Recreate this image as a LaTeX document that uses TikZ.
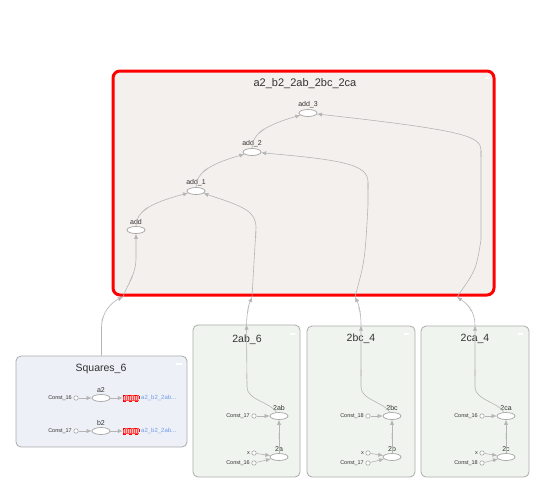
\documentclass[tikz,border=0pt]{standalone}
\usepackage{fontspec}
\setmainfont{Liberation Sans}
\usetikzlibrary{arrows.meta,shapes.geometric}
\definecolor{mainfill}{HTML}{F4F0EE}
\definecolor{groupgreen}{HTML}{F0F4EE}
\definecolor{squaresblue}{HTML}{EDF0F6}
\definecolor{boxgray}{HTML}{ABABAB}
\definecolor{edgegray}{HTML}{B5B5B5}
\definecolor{opgray}{HTML}{A6A6A6}
\definecolor{textgray}{HTML}{333333}
\definecolor{refblue}{HTML}{6F9CEB}
\begin{document}
\begin{tikzpicture}[x=1pt,y=-1pt,
	opnode/.style={ellipse, draw=opgray, fill=white, line width=0.7pt, minimum width=18pt, minimum height=7pt, inner sep=0pt},
	constnode/.style={circle, draw=opgray, fill=white, line width=0.6pt, minimum size=4.4pt, inner sep=0pt},
	oplabel/.style={font=\fontsize{7}{8}\selectfont, text=textgray, inner sep=0.5pt, label distance=1pt},
	constlabel/.style={font=\fontsize{5.5}{6}\selectfont, text=textgray, inner sep=0.5pt, label distance=1pt},
	groupbox/.style={draw=boxgray, line width=0.8pt, rounded corners=5pt, fill=groupgreen, inner sep=0pt},
	grouptitle/.style={font=\fontsize{10.5}{12}\selectfont, text=textgray},
	dataflow/.style={draw=edgegray, line width=0.6pt, -{Latex[length=5pt,width=4.2pt]}},
	shapelabel/.style={sloped, font=\fontsize{2.5}{3}\selectfont, text=edgegray, inner sep=0.3pt},
	stubbox/.style={draw=red, dashed, line width=0.5pt, fill=red!70, minimum width=16pt, minimum height=5.5pt, inner sep=0pt},
	stubtext/.style={font=\fontsize{6}{7}\selectfont, text=refblue, inner sep=0pt, anchor=west},
	collapse/.style={white, line width=1.3pt}]
	\fill[white] (0,0) rectangle (546,493);
	\useasboundingbox (0,0) rectangle (546,493);

	\node[draw=red, line width=3pt, rounded corners=7pt, fill=mainfill, minimum width=381pt, minimum height=224pt, inner sep=0pt] (main) at (303.5,183) {};
	\node[font=\fontsize{11}{13}\selectfont, text=textgray] (maintitle) at (305,84) {a2\_b2\_2ab\_2bc\_2ca};
	\draw[collapse] (485,78) -- (490,78);

	\node[groupbox, fill=squaresblue, minimum width=171pt, minimum height=91pt] (sq) at (101.5,401.5) {};
	\node[grouptitle] (sqtitle) at (101,369) {Squares\_6};
	\draw[collapse] (176,364) -- (182,364);
	\node[groupbox, minimum width=107pt, minimum height=152pt] (gab) at (246.5,401) {};
	\node[grouptitle] (gabtitle) at (247,340) {2ab\_6};
	\draw[collapse] (290,334) -- (295,334);
	\node[groupbox, minimum width=108pt, minimum height=151pt] (gbc) at (361,401.5) {};
	\node[grouptitle] (gbctitle) at (361,339) {2bc\_4};
	\draw[collapse] (404,334) -- (409,334);
	\node[groupbox, minimum width=108pt, minimum height=151pt] (gca) at (475,401.5) {};
	\node[grouptitle] (gcatitle) at (475,339) {2ca\_4};
	\draw[collapse] (518,334) -- (523,334);

	\node[opnode, label={[oplabel]above:add\_3}] (add3) at (308,113) {};
	\node[opnode, label={[oplabel]above:add\_2}] (add2) at (252,152) {};
	\node[opnode, label={[oplabel]above:add\_1}] (add1) at (196,191) {};
	\node[opnode, label={[oplabel]above:add}] (add) at (136,230) {};

	\node[opnode, label={[oplabel]above:a2}] (a2op) at (101,398) {};
	\node[constnode, label={[constlabel]left:Const\_16}] (sqc16) at (76,398) {};
	\node[stubbox] (a2stub) at (131,398) {};
	\node[stubtext] (a2ref) at (141,398) {a2\_b2\_2ab...};
	\node[opnode, label={[oplabel]above:b2}] (b2op) at (101,431) {};
	\node[constnode, label={[constlabel]left:Const\_17}] (sqc17) at (76,431) {};
	\node[stubbox] (b2stub) at (131,431) {};
	\node[stubtext] (b2ref) at (141,431) {a2\_b2\_2ab...};
	\foreach \sx in {124,126,...,138} {
		\draw[red!25, line width=0.5pt] (\sx,396) -- (\sx,400);
		\draw[red!25, line width=0.5pt] (\sx,429) -- (\sx,433);
	}

	\node[opnode, label={[oplabel]above:2ab}] (ab2) at (279,416) {};
	\node[constnode, label={[constlabel]left:Const\_17}] (abc17) at (254,416) {};
	\node[opnode, label={[oplabel]above:2a}] (aop) at (279,457) {};
	\node[constnode, label={[constlabel]left:x}] (abx) at (254,453) {};
	\node[constnode, label={[constlabel]left:Const\_16}] (abc16) at (254,463) {};

	\node[opnode, label={[oplabel]above:2bc}] (bc2) at (392,416) {};
	\node[constnode, label={[constlabel]left:Const\_18}] (bcc18) at (368,416) {};
	\node[opnode, label={[oplabel]above:2b}] (bop) at (392,457) {};
	\node[constnode, label={[constlabel]left:x}] (bcx) at (368,453) {};
	\node[constnode, label={[constlabel]left:Const\_17}] (bcc17) at (368,463) {};

	\node[opnode, label={[oplabel]above:2ca}] (ca2) at (506,416) {};
	\node[constnode, label={[constlabel]left:Const\_16}] (cac16) at (482,416) {};
	\node[opnode, label={[oplabel]above:2c}] (cop) at (506,457) {};
	\node[constnode, label={[constlabel]left:x}] (cax) at (482,453) {};
	\node[constnode, label={[constlabel]left:Const\_18}] (cac18) at (482,463) {};

	\coordinate (sqin) at (123,297);
	\coordinate (abin) at (252,297);
	\coordinate (bcin) at (355,297);
	\coordinate (cain) at (457,297);

	\draw[dataflow] (add) .. controls (136,212) and (150,203) .. node[shapelabel, pos=0.45] {scalar} (add1);
	\draw[dataflow] (add1) .. controls (196,173) and (210,164) .. node[shapelabel, pos=0.45] {scalar} (add2);
	\draw[dataflow] (add2) .. controls (252,134) and (266,125) .. node[shapelabel, pos=0.45] {scalar} (add3);

	\draw[dataflow] (sq.north) -- (101.5,327) .. controls (101.5,312) and (112,302) .. node[shapelabel, pos=0.15] {scalar} (sqin);
	\draw[dataflow] (sqin) .. controls (127,285) and (136,275) .. node[shapelabel, pos=0.5] {scalar} (136,258) -- (add);

	\draw[dataflow] (ab2) .. controls (270,402) and (247,400) .. (247,387) -- node[shapelabel, pos=0.17] {scalar} (gab.north);
	\draw[dataflow] (gab.north) .. controls (247,308) and (250,302) .. node[shapelabel, pos=0.4] {scalar} (abin);
	\draw[dataflow] (abin) -- node[shapelabel, pos=0.9] {scalar} (256,228) .. controls (256,212) and (246,207) .. (add1);

	\draw[dataflow] (bc2) .. controls (384,402) and (361,400) .. (361,387) -- node[shapelabel, pos=0.22] {scalar} (gbc.north);
	\draw[dataflow] (gbc.north) .. controls (361,310) and (358,303) .. node[shapelabel, pos=0.4] {scalar} (bcin);
	\draw[dataflow] (bcin) .. controls (365,260) .. (368,205) -- node[shapelabel, pos=0.8] {scalar} (368,182) .. controls (368,165) and (345,160) .. (add2);

	\draw[dataflow] (ca2) .. controls (498,402) and (475,400) .. (475,387) -- node[shapelabel, pos=0.22] {scalar} (gca.north);
	\draw[dataflow] (gca.north) .. controls (475,310) and (466,303) .. node[shapelabel, pos=0.45] {scalar} (cain);
	\draw[dataflow] (cain) .. controls (476,270) .. (481,240) -- node[shapelabel, pos=0.95] {scalar} (481,150) .. controls (481,136) and (462,130) .. (add3);

	\draw[dataflow] (sqc16) -- (a2op);
	\draw[dataflow] (a2op) -- (a2stub);
	\draw[dataflow] (sqc17) -- (b2op);
	\draw[dataflow] (b2op) -- (b2stub);

	\draw[dataflow] (abc17) -- (ab2);
	\draw[dataflow] (abx) -- (aop);
	\draw[dataflow] (abc16) -- (aop);
	\draw[dataflow] (aop) -- node[shapelabel] {scalar} (ab2);

	\draw[dataflow] (bcc18) -- (bc2);
	\draw[dataflow] (bcx) -- (bop);
	\draw[dataflow] (bcc17) -- (bop);
	\draw[dataflow] (bop) -- node[shapelabel] {scalar} (bc2);

	\draw[dataflow] (cac16) -- (ca2);
	\draw[dataflow] (cax) -- (cop);
	\draw[dataflow] (cac18) -- (cop);
	\draw[dataflow] (cop) -- node[shapelabel] {scalar} (ca2);
\end{tikzpicture}
\end{document}
